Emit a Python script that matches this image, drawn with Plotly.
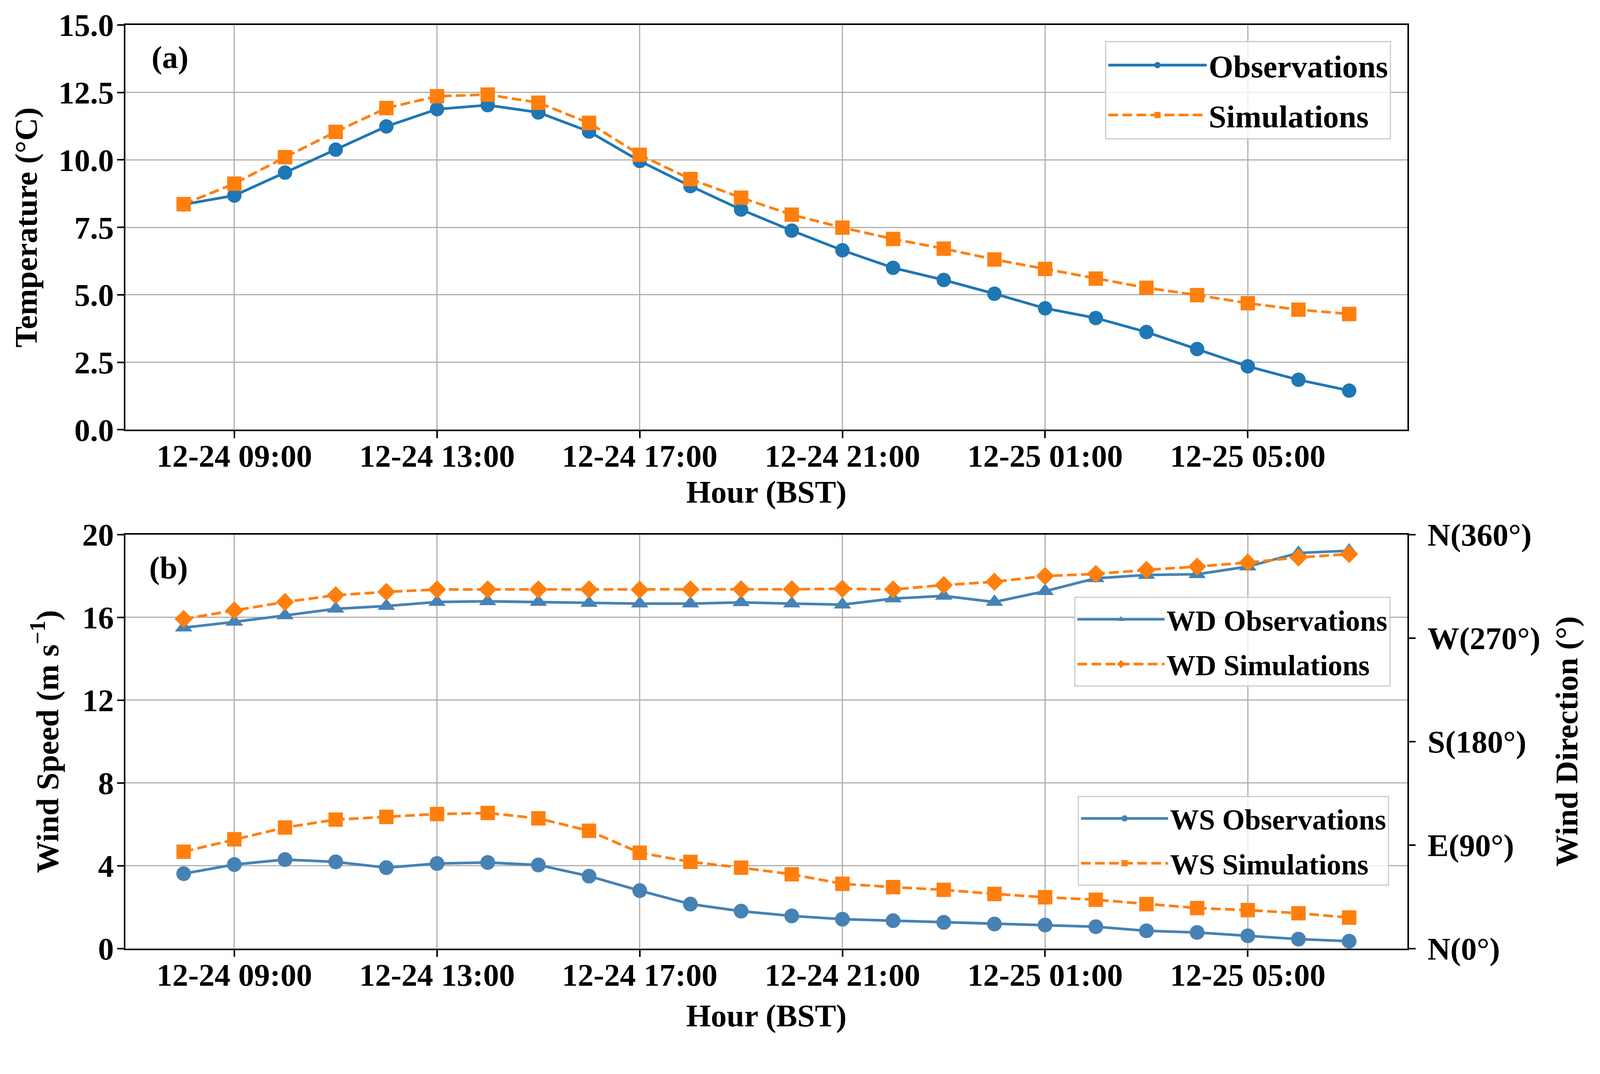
import plotly.graph_objects as go

# ---------------- data ----------------
hours = [
    "2023-12-24 08:00", "2023-12-24 09:00", "2023-12-24 10:00", "2023-12-24 11:00",
    "2023-12-24 12:00", "2023-12-24 13:00", "2023-12-24 14:00", "2023-12-24 15:00",
    "2023-12-24 16:00", "2023-12-24 17:00", "2023-12-24 18:00", "2023-12-24 19:00",
    "2023-12-24 20:00", "2023-12-24 21:00", "2023-12-24 22:00", "2023-12-24 23:00",
    "2023-12-25 00:00", "2023-12-25 01:00", "2023-12-25 02:00", "2023-12-25 03:00",
    "2023-12-25 04:00", "2023-12-25 05:00", "2023-12-25 06:00", "2023-12-25 07:00",
]

temp_obs = [8.35, 8.68, 9.53, 10.38, 11.24, 11.88, 12.03, 11.76, 11.05, 9.96, 9.03, 8.16,
            7.38, 6.65, 6.00, 5.55, 5.04, 4.50, 4.14, 3.62, 2.99, 2.35, 1.85, 1.45]
temp_sim = [8.36, 9.12, 10.10, 11.04, 11.92, 12.36, 12.42, 12.12, 11.37, 10.19, 9.29, 8.60,
            7.97, 7.49, 7.07, 6.71, 6.31, 5.96, 5.60, 5.26, 4.99, 4.69, 4.45, 4.29]

ws_obs = [3.62, 4.06, 4.30, 4.19, 3.91, 4.11, 4.16, 4.04, 3.50, 2.80, 2.15, 1.81,
          1.58, 1.42, 1.35, 1.27, 1.19, 1.14, 1.06, 0.86, 0.78, 0.62, 0.46, 0.36]
ws_sim = [4.68, 5.28, 5.85, 6.23, 6.36, 6.50, 6.55, 6.29, 5.69, 4.63, 4.19, 3.91,
          3.59, 3.13, 2.97, 2.84, 2.64, 2.48, 2.36, 2.15, 1.96, 1.86, 1.71, 1.50]

wd_obs = [279.0, 284.0, 289.6, 295.4, 297.8, 301.3, 301.9, 301.3, 300.4, 299.9, 299.9, 301.0,
          299.9, 299.0, 304.3, 306.6, 301.3, 310.7, 321.9, 324.8, 325.4, 332.1, 343.9, 345.9]
wd_sim = [286.6, 294.0, 301.3, 307.2, 310.1, 312.2, 312.2, 312.2, 312.2, 312.0, 312.2, 312.4,
          312.4, 312.8, 312.2, 316.0, 318.9, 323.9, 325.7, 329.2, 332.1, 335.6, 340.0, 343.0]

x_tick_vals = ["2023-12-24 09:00", "2023-12-24 13:00", "2023-12-24 17:00",
               "2023-12-24 21:00", "2023-12-25 01:00", "2023-12-25 05:00"]
x_tick_text = ["12-24 09:00", "12-24 13:00", "12-24 17:00",
               "12-24 21:00", "12-25 01:00", "12-25 05:00"]
x_range = ["2023-12-24 06:51", "2023-12-25 08:09"]

temp_ticks = [0, 2.5, 5, 7.5, 10, 12.5, 15]
ws_ticks = [0, 4, 8, 12, 16, 20]
wd_tick_vals = [0, 90, 180, 270, 360]
wd_tick_text = ["N(0°)", "E(90°)", "S(180°)", "W(270°)", "N(360°)"]

# ---------------- style ----------------
K = 1 / 1.031          # page-to-photo scale compensation


def px(v):
    return v * K


BLUE = "#1f77b4"
STEEL = "#4682b4"
ORANGE = "#ff7f0e"
GRID = "#b0b0b0"
FONT = "Liberation Serif"
FS = round(px(84))
FS_LEG2 = round(px(76))
LW = px(7)
DASH = f"{px(26):.0f}px,{px(11):.0f}px"


def tfont(size=FS):
    return dict(family=FONT, size=size, color="black", weight="bold")


fig = go.Figure()

fig.add_trace(go.Scatter(x=hours, y=temp_obs, name="Observations", mode="lines+markers",
                         line=dict(color=BLUE, width=LW),
                         marker=dict(symbol="circle", size=px(38), color=BLUE),
                         xaxis="x", yaxis="y", legend="legend", legendgroup="a1"))
fig.add_trace(go.Scatter(x=hours, y=temp_sim, name="Simulations", mode="lines+markers",
                         line=dict(color=ORANGE, width=LW, dash=DASH),
                         marker=dict(symbol="square", size=px(38), color=ORANGE),
                         xaxis="x", yaxis="y", legend="legend", legendgroup="a2"))

fig.add_trace(go.Scatter(x=hours, y=ws_obs, name="WS Observations", mode="lines+markers",
                         line=dict(color=STEEL, width=LW),
                         marker=dict(symbol="circle", size=px(39), color=STEEL),
                         xaxis="x2", yaxis="y2", legend="legend3", legendgroup="b1"))
fig.add_trace(go.Scatter(x=hours, y=ws_sim, name="WS Simulations", mode="lines+markers",
                         line=dict(color=ORANGE, width=LW, dash=DASH),
                         marker=dict(symbol="square", size=px(38), color=ORANGE),
                         xaxis="x2", yaxis="y2", legend="legend3", legendgroup="b2"))

fig.add_trace(go.Scatter(x=hours, y=wd_obs, name="WD Observations", mode="lines+markers",
                         line=dict(color=STEEL, width=LW),
                         marker=dict(symbol="triangle-up", size=px(40), color=STEEL),
                         xaxis="x2", yaxis="y3", legend="legend2", legendgroup="c1"))
fig.add_trace(go.Scatter(x=hours, y=wd_sim, name="WD Simulations", mode="lines+markers",
                         line=dict(color=ORANGE, width=LW, dash=DASH),
                         marker=dict(symbol="diamond", size=px(37), color=ORANGE),
                         xaxis="x2", yaxis="y3", legend="legend2", legendgroup="c2"))

axis_common = dict(
    showline=True, linecolor="black", linewidth=px(4), mirror=True,
    ticks="outside", ticklen=px(18), tickwidth=px(4), tickcolor="black",
    zeroline=False, tickfont=tfont(),
)
x_common = dict(
    axis_common, type="date", range=x_range, tickvals=x_tick_vals, ticktext=x_tick_text,
    showgrid=True, gridcolor=GRID, gridwidth=px(3.5), ticklabelstandoff=round(px(-25)),
)

legend_common = dict(
    xanchor="right", yanchor="top", bgcolor="rgba(255,255,255,0.8)",
    bordercolor="#cccccc", borderwidth=px(3), traceorder="grouped",
)

W, H = 4071, 2659
fig.update_layout(
    width=W, height=H,
    margin=dict(l=313, r=W - 3595, t=50, b=H - 2421),
    paper_bgcolor="white", plot_bgcolor="white",
    font=tfont(),
    xaxis=dict(x_common, anchor="y", domain=[0, 1],
               title=dict(text="Hour (BST)", font=tfont(), standoff=px(20))),
    yaxis=dict(axis_common, domain=[0.5618, 1], range=[0, 15], tickvals=temp_ticks,
               tickformat=".1f", showgrid=True, gridcolor=GRID, gridwidth=px(3.5),
               ticklabelstandoff=round(px(-8)),
               title=dict(text="Temperature (°C)", font=tfont(), standoff=px(30))),
    xaxis2=dict(x_common, anchor="y2", domain=[0, 1],
                title=dict(text="Hour (BST)", font=tfont(), standoff=px(33))),
    yaxis2=dict(axis_common, domain=[0, 0.4484], range=[0, 20], tickvals=ws_ticks,
                showgrid=True, gridcolor=GRID, gridwidth=px(3.5), anchor="x2",
                ticklabelstandoff=round(px(-8)),
                title=dict(text="Wind Speed (m s<sup>−1</sup>)", font=tfont(),
                           standoff=px(36))),
    yaxis3=dict(axis_common, overlaying="y2", side="right", anchor="x2",
                range=[0, 360], tickvals=wd_tick_vals, ticktext=wd_tick_text,
                showgrid=False, mirror=False, ticklabelstandoff=round(px(14))),
    legend=dict(legend_common, x=0.9873, y=0.9828, tracegroupgap=px(20),
                itemwidth=round(px(260)), font=tfont(FS)),
    legend2=dict(legend_common, x=0.9870, y=0.3809, tracegroupgap=px(16),
                 itemwidth=round(px(230)), font=tfont(FS_LEG2)),
    legend3=dict(legend_common, x=0.9858, y=0.1653, tracegroupgap=px(16),
                 itemwidth=round(px(230)), font=tfont(FS_LEG2)),
    showlegend=True,
    annotations=[
        dict(text="(a)", xref="x domain", yref="y domain", x=0.0198, y=0.920,
             xanchor="left", yanchor="middle", showarrow=False, font=tfont()),
        dict(text="(b)", xref="x2 domain", yref="y2 domain", x=0.018, y=0.919,
             xanchor="left", yanchor="middle", showarrow=False, font=tfont()),
        dict(text="Wind Direction (°)", xref="paper", yref="y2 domain", x=1.1241, y=0.5,
             xanchor="center", yanchor="middle", textangle=-90, showarrow=False,
             font=tfont()),
    ],
)

fig.write_html("out.html")
